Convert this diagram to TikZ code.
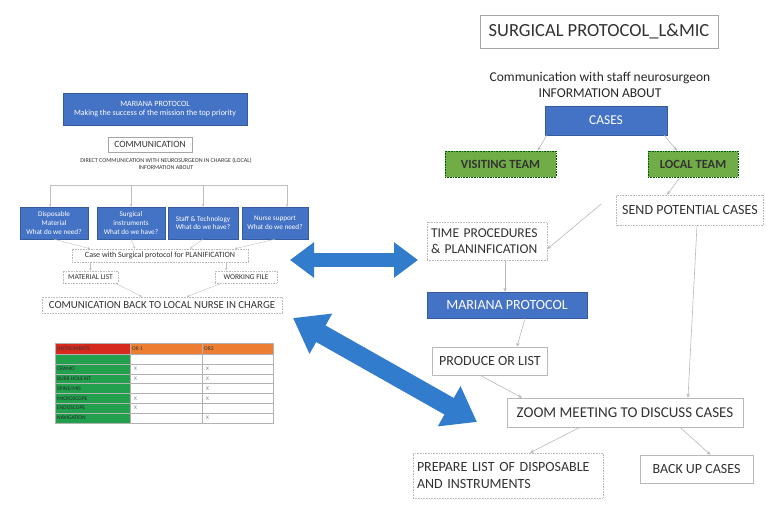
\documentclass[tikz,border=0pt]{standalone}
\usepackage{fontspec}
\setmainfont{Carlito}
\usetikzlibrary{arrows.meta}
\definecolor{obl}{RGB}{68,114,196}
\definecolor{arrblue}{RGB}{50,124,205}
\definecolor{grn}{RGB}{112,173,71}
\definecolor{hdrred}{RGB}{214,42,30}
\definecolor{hdror}{RGB}{237,125,49}
\definecolor{tgreen}{RGB}{34,160,78}
\definecolor{txt}{RGB}{50,50,50}
\tikzset{
  fs/.code={\pgfmathsetmacro\fsb{#1*1.2}\edef\fstmp{\noexpand\tikzset{font=\noexpand\fontsize{#1}{\fsb}\noexpand\selectfont}}\fstmp},
  box/.style={draw=gray!55, line width=0.6pt, fill=white, inner sep=0pt, align=center, text=txt},
  bluebox/.style={fill=obl, draw=obl!80!black, line width=0.4pt, inner sep=0pt, align=center, text=white},
  greenbox/.style={fill=grn, draw=green!35!black, densely dotted, line width=0.6pt, inner sep=0pt, align=center, text=black!80, font=\bfseries\fontsize{12.5}{15}\selectfont},
  conn/.style={draw=gray!55, line width=0.6pt, -{Stealth[length=4pt,width=3.5pt]}},
  lconn/.style={draw=gray!50, line width=0.4pt, -{Stealth[length=2.5pt,width=2.5pt]}},
  bigarrow/.style={draw=arrblue},
  cell/.style={inner sep=0pt, anchor=west, fs=5.5},
}
\begin{document}
\begin{tikzpicture}[x=1pt,y=-1pt]
\useasboundingbox (0,0) rectangle (766,505);
\fill[white] (0,0) rectangle (766,505);

% ---------------- right part ----------------
\node[box, draw=gray!70, minimum width=238pt, minimum height=33pt, fs=18.5] (title) at (599,31.5) {SURGICAL PROTOCOL\_L\&MIC};
\node[inner sep=0pt, align=center, text=black!85, fs=13.5] (info) at (600,85) {Communication with staff neurosurgeon\\INFORMATION ABOUT};
\node[bluebox, minimum width=122pt, minimum height=29pt, fs=13.5] (cases) at (606,120.5) {CASES};
\node[greenbox, minimum width=111pt, minimum height=26pt] (visit) at (500.5,164) {VISITING TEAM};
\node[greenbox, minimum width=90pt, minimum height=26pt] (local) at (693,164) {LOCAL TEAM};
\node[box, densely dotted, minimum width=147pt, minimum height=30pt, fs=14] (send) at (690,210) {SEND POTENTIAL CASES};
\node[box, densely dotted, minimum width=120pt, minimum height=38pt, fs=13.5, align=left, text width=112pt] (time) at (487,241) {TIME PROCEDURES\\\& PLANINFICATION};
\node[bluebox, minimum width=160pt, minimum height=26pt, fs=14] (mariana) at (507,305) {MARIANA PROTOCOL};
\node[box, minimum width=115pt, minimum height=28pt, fs=14] (produce) at (490,361) {PRODUCE OR LIST};
\node[box, minimum width=236pt, minimum height=29pt, fs=15] (zoom) at (625,412.5) {ZOOM MEETING TO DISCUSS CASES};
\node[box, densely dotted, minimum width=190pt, minimum height=45pt, fs=14, align=left, text width=182pt] (prepare) at (508,475.5) {PREPARE LIST OF DISPOSABLE\\AND INSTRUMENTS};
\node[box, minimum width=113pt, minimum height=28pt, fs=14] (backup) at (696.5,469) {BACK UP CASES};

\draw[conn] ([xshift=2pt]cases.south west) -- ([xshift=37pt]visit.north);
\draw[conn] ([xshift=-3pt]cases.south east) -- ([xshift=-16pt]local.north);
\draw[conn] ([xshift=-13pt]local.south) -- ([xshift=-23pt]send.north);
\draw[conn] ([xshift=-15pt,yshift=6pt]send.west) -- ([yshift=-8pt]time.east);
\draw[conn] ([xshift=18pt]time.south) -- ([xshift=-2pt]mariana.north);
\draw[conn] ([xshift=18pt]mariana.south) -- ([xshift=27pt]produce.north);
\draw[conn] ([xshift=7pt]send.south) -- ([xshift=63pt]zoom.north);
\draw[conn] ([xshift=-10pt]produce.south) -- ([xshift=-103pt]zoom.north);
\draw[conn] ([xshift=-45pt]zoom.south) -- ([xshift=22pt]prepare.north);
\draw[conn] ([xshift=55pt]zoom.south) -- ([xshift=14pt]backup.north);

% ---------------- left part ----------------
\node[bluebox, minimum width=184pt, minimum height=32pt, fs=8] (lmar) at (155,109) {MARIANA PROTOCOL\\Making the success of the mission the top priority};
\node[box, draw=gray!70, minimum width=84pt, minimum height=15pt, fs=9.5, text=black!80] (lcomm) at (150,144.5) {COMMUNICATION};
\node[inner sep=0pt, align=center, text=black!80, fs=6] (ldirect) at (166,164) {DIRECT COMMUNICATION WITH NEUROSURGEON IN CHARGE (LOCAL)\\INFORMATION ABOUT};
\node[bluebox, minimum width=68pt, minimum height=32pt, fs=7.2] (b1) at (54,223) {Disposable\\Material\\What do we need?};
\node[bluebox, minimum width=68pt, minimum height=32pt, fs=7.2] (b2) at (131,223) {Surgical\\instruments\\What do we have?};
\node[bluebox, minimum width=70pt, minimum height=32pt, fs=7.2] (b3) at (203,223) {Staff \& Technology\\What do we have?};
\node[bluebox, minimum width=66pt, minimum height=32pt, fs=7.2] (b4) at (275,223) {Nurse support\\What do we need?};
\coordinate (hl) at (50,185);
\coordinate (hr) at (287,185);
\draw[draw=gray!50, line width=0.4pt] (hl) -- (hr);
\draw[lconn] (hl) -- (hl |- b1.north);
\draw[lconn] (b2.north |- hl) -- (b2.north);
\draw[lconn] (b3.north |- hl) -- (b3.north);
\draw[lconn] (hr) -- (hr |- b4.north);

\node[box, densely dotted, minimum width=176pt, minimum height=13pt, fs=8, text=black!80] (case) at (160,255.5) {Case with Surgical protocol for PLANIFICATION};
\draw[lconn] (b1.south) -- ([xshift=-70pt]case.north);
\draw[lconn] (b2.south) -- ([xshift=-25pt]case.north);
\draw[lconn] (b3.south) -- ([xshift=30pt]case.north);
\draw[lconn] (b4.south) -- ([xshift=75pt]case.north);

\node[box, densely dotted, minimum width=55pt, minimum height=12pt, fs=7.5, text=black!80] (matlist) at (90.5,277) {MATERIAL LIST};
\node[box, densely dotted, minimum width=62pt, minimum height=12pt, fs=7.5, text=black!80] (workfile) at (246,277) {WORKING FILE};
\node[box, densely dotted, minimum width=240pt, minimum height=16pt, fs=10.8, text=black!80] (cback) at (162,305) {COMUNICATION BACK TO LOCAL NURSE IN CHARGE};
\draw[lconn] (case.south -| matlist.north) -- (matlist.north);
\draw[lconn] ([xshift=-20pt]workfile.north |- case.south) -- ([xshift=-20pt]workfile.north);
\draw[lconn] ([xshift=25pt]matlist.south) -- ([xshift=-20pt]cback.north);
\draw[lconn] ([xshift=-25pt]workfile.south) -- ([xshift=25pt]cback.north);

% ---------------- table ----------------
\fill[hdrred] (55,343) rectangle (130,354);
\fill[hdror] (130,343) rectangle (273,354);
\fill[tgreen] (55,354) rectangle (130,423);
\foreach \y in {354,363.86,373.71,383.57,393.43,403.29,413.14} \draw[gray!60, line width=0.4pt] (55,\y) -- (273,\y);
\draw[gray!60, line width=0.4pt] (55,343) rectangle (273,423);
\draw[gray!60, line width=0.4pt] (130,343) -- (130,423);
\draw[gray!60, line width=0.4pt] (202,343) -- (202,423);
\node[cell, text=black!80] (th1) at (57,348.5) {INSTRUMENTS};
\node[cell, text=black!80] (th2) at (132,348.5) {OR 1};
\node[cell, text=black!80] (th3) at (204,348.5) {OR2};
\node[cell, text=black!85] (r2) at (57,368.8) {CRANIO};
\node[cell, text=black!85] (r3) at (57,378.6) {BURR HOLE KIT};
\node[cell, text=black!85] (r4) at (57,388.5) {SPINE/MIS};
\node[cell, text=black!85] (r5) at (57,398.4) {MICROSCOPE};
\node[cell, text=black!85] (r6) at (57,408.2) {ENDOSCOPE};
\node[cell, text=black!85] (r7) at (57,418.1) {NAVIGATION};
\foreach \y/\n in {368.8/a,378.6/b,398.4/c,408.2/d} \node[cell, text=gray] (m1\n) at (134,\y) {X};
\foreach \y/\n in {368.8/a,378.6/b,388.5/c,398.4/d,418.1/e} \node[cell, text=gray] (m2\n) at (206,\y) {X};

% ---------------- big arrows ----------------
\coordinate (a1l) at (290,260);
\coordinate (a1r) at (418,260);
\draw[bigarrow, line width=14pt, {Triangle[width=34pt,length=24pt]}-{Triangle[width=34pt,length=24pt]}] (a1l) -- (a1r);
\coordinate (a2l) at (293,318);
\coordinate (a2r) at (477,422);
\draw[bigarrow, line width=19pt, {Triangle[width=44pt,length=32pt]}-{Triangle[width=44pt,length=32pt]}] (a2l) -- (a2r);
\end{tikzpicture}
\end{document}
